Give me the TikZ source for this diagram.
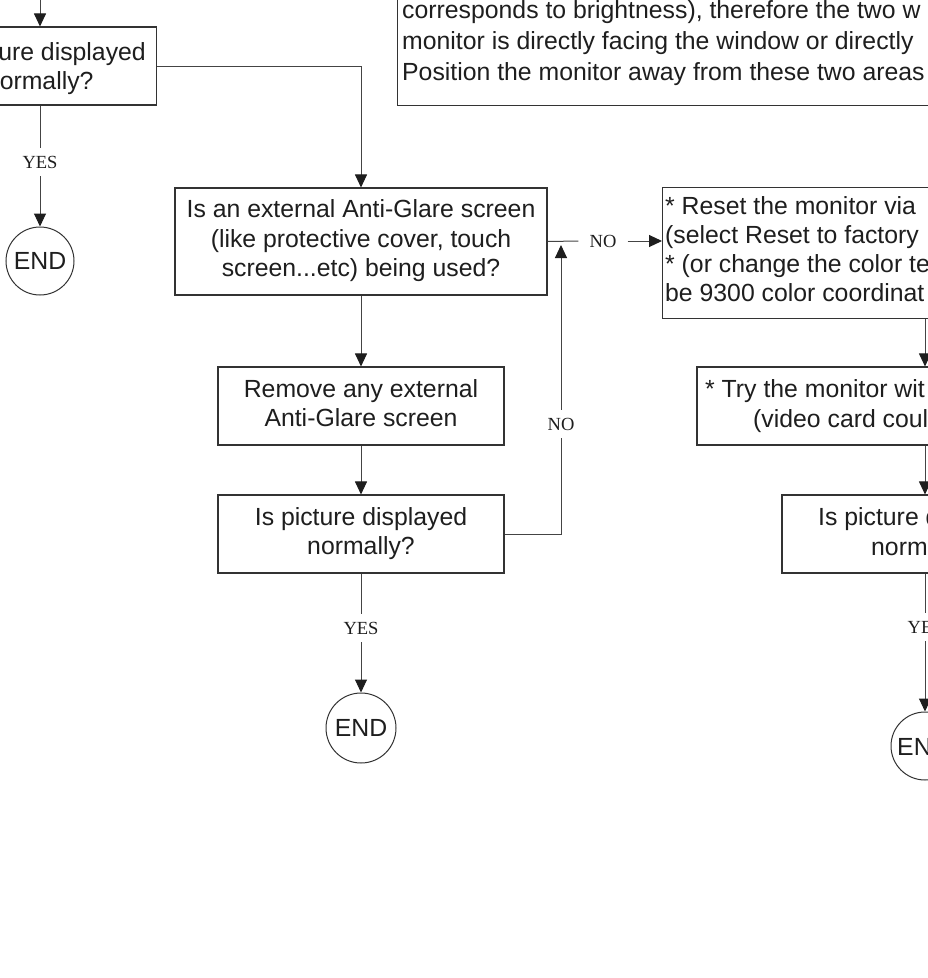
\documentclass[tikz,border=0pt]{standalone}
\usepackage{fontspec}
\setmainfont{Liberation Sans}
\newfontfamily\tmsfont{Liberation Serif}
\usetikzlibrary{arrows.meta}
\definecolor{ink}{HTML}{1E1E1E}
\definecolor{edgec}{HTML}{333333}
\definecolor{connc}{HTML}{444444}
\newcommand\mainfs{\fontsize{24.8}{29.5}\selectfont}
\newcommand\lblfs{\tmsfont\fontsize{18.5}{20}\selectfont}
\begin{document}
\begin{tikzpicture}[x=1pt,y=-1pt,
  every node/.style={text=ink},
  box/.style={draw=edgec, line width=1.1pt, inner sep=0pt, align=center, font=\mainfs},
  txt/.style={inner sep=0pt, font=\mainfs},
  lbl/.style={font=\lblfs, inner xsep=11pt, inner ysep=8pt},
  conn/.style={draw=connc, line width=1pt},
  arr/.style={conn, -{Triangle[length=13pt,width=12pt,color=ink]}},
  endc/.style={circle, draw=edgec, line width=1pt, minimum size=68pt, inner sep=0pt, font=\mainfs}
]
\useasboundingbox (0,0) rectangle (928,978);
\fill[white] (0,0) rectangle (928,978);
\clip (0,0) rectangle (928,978);

% top note box (cut off)
\node[box, minimum width=603pt, minimum height=130pt, anchor=south west] (b0) at (397,106) {};
\node[txt, anchor=base west] (t0a) at (402,18) {corresponds to brightness), therefore the two w};
\node[txt, anchor=base west] (t0b) at (402,49) {monitor is directly facing the window or directly};
\node[txt, anchor=base west] (t0c) at (402,80) {Position the monitor away from these two areas};

% left column
\coordinate (top1) at (40,-2);
\node[box, minimum width=290pt, minimum height=78pt, anchor=east] (b1) at (157,66) {};
\node[txt, anchor=base east] (t1a) at (146,60) {ure displayed};
\node[txt, anchor=base east] (t1b) at (93.7,89) {ormally?};
\draw[arr] (top1) -- (top1 |- b1.north);
\node[lbl] (y1) at (40,162) {YES};
\node[endc] (e1) at (40,261) {END};
\draw[conn] (y1.north |- b1.south) -- (y1.north);
\draw[arr] (y1.south) -- (e1.north);

% middle column
\node[box, minimum width=372pt, minimum height=107pt] (b2) at (361,241.5)
  {\strut Is an external Anti-Glare screen\\(like protective cover, touch\\screen...etc) being used?\strut};
\draw[arr] (b1.east) -| (b2.north);
\node[box, minimum width=286pt, minimum height=78pt] (b3) at (361,406)
  {\strut Remove any external\\Anti-Glare screen\strut};
\node[box, minimum width=286pt, minimum height=78pt] (b4) at (361,534)
  {\strut Is picture displayed\\normally?\strut};
\draw[arr] (b2.south) -- (b3.north);
\draw[arr] (b3.south) -- (b4.north);
\node[lbl] (y2) at (361,628) {YES};
\node[endc, minimum size=70pt] (e2) at (361,728) {END};
\draw[conn] (b4.south) -- (y2.north);
\draw[arr] (y2.south) -- (e2.north);
\node[lbl] (n2) at (561,424) {NO};
\coordinate (j2) at (561,245);
\draw[conn] (b4.east) -| (n2.south);
\draw[arr] (n2.north) -- (j2);

% right column
\node[box, minimum width=600pt, minimum height=131pt, anchor=north west] (b5) at (662,187) {};
\node[txt, anchor=base west] (t5a) at (665,214) {* Reset the monitor via};
\node[txt, anchor=base west] (t5b) at (665,243) {(select Reset to factory};
\node[txt, anchor=base west] (t5c) at (665,272) {* (or change the color te};
\node[txt, anchor=base west] (t5d) at (665,301) {be 9300 color coordinat};
\node[lbl] (n1) at (603,241) {NO};
\draw[conn] (b2.east) -- (n1.west);
\draw[arr] (n1.east) -- (n1.east -| b5.west);

\node[box, minimum width=456pt, minimum height=78pt] (b6) at (925,406) {};
\node[txt, anchor=base west] (t6a) at (705,397) {* Try the monitor wit};
\node[txt, anchor=base west] (t6b) at (753,427) {(video card coul};
\draw[arr] (b6.north |- b5.south) -- (b6.north);

\node[box, minimum width=286pt, minimum height=78pt] (b7) at (925,534) {};
\node[txt, anchor=base west] (t7a) at (818,525.5) {Is picture d};
\node[txt, anchor=base west] (t7b) at (871,555) {norm};
\draw[arr] (b6.south) -- (b7.north);

\node[lbl, anchor=west, inner xsep=0pt] (y3) at (907.5,627) {YE};
\node[endc] (e3) at (925,746) {};
\node[txt, anchor=base west] (t3) at (897,755) {EN};
\draw[conn] (b7.south) -- (b7.south |- y3.north);
\draw[arr] (b7.south |- y3.south) -- (e3.north);
\end{tikzpicture}
\end{document}
